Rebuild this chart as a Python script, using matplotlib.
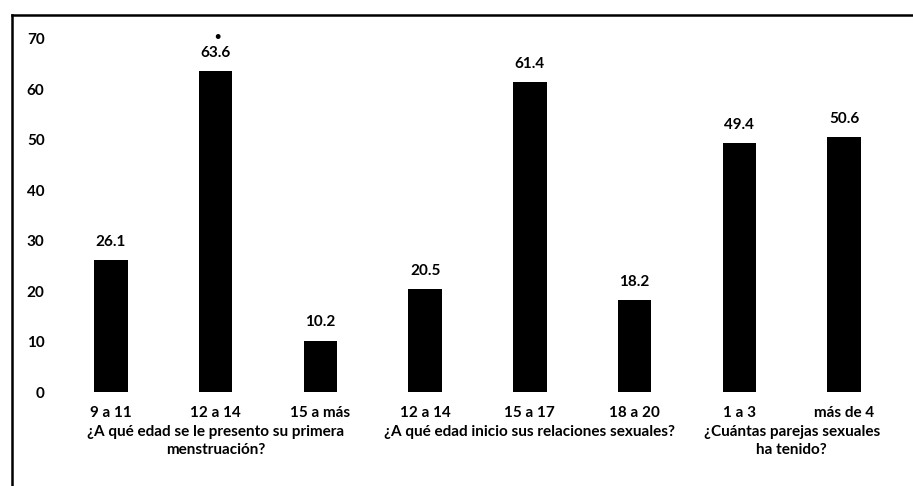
import matplotlib
matplotlib.use("Agg")
import matplotlib.pyplot as plt
from matplotlib.lines import Line2D
import matplotlib.transforms as mtrans

categories = ["9 a 11", "12 a 14", "15 a más", "12 a 14", "15 a 17", "18 a 20", "1 a 3", "más de 4"]
values = [26.1, 63.6, 10.2, 20.5, 61.4, 18.2, 49.4, 50.6]
value_labels = ["26.1", "63.6", "10.2", "20.5", "61.4", "18.2", "49.4", "50.6"]
groups = ["¿A qué edad se le presento su primera\nmenstruación?",
          "¿A qué edad inicio sus relaciones sexuales?",
          "¿Cuántas parejas sexuales\nha tenido?"]
group_members = [[0, 1, 2], [3, 4, 5], [6, 7]]
yticks = [0, 10, 20, 30, 40, 50, 60, 70]

plt.rcParams['font.family'] = ['Lato', 'DejaVu Sans']

fig = plt.figure(figsize=(9.13, 4.86), dpi=100)
ax = fig.add_axes([58.5/913, 94/486, (896.5-58.5)/913, (392-39)/486])

fs = 11
x = list(range(len(categories)))
ax.bar(x, values, width=0.32, color='black')
ax.set_xlim(-0.5, len(categories) - 0.5)
ax.set_ylim(0, 70)
ax.set_yticks(yticks)
ax.set_yticklabels([str(t) for t in yticks], fontsize=fs, fontweight='bold')
ax.set_xticks(x)
ax.set_xticklabels(categories, fontsize=fs, fontweight='bold')
ax.tick_params(axis='both', length=0)
ax.tick_params(axis='y', pad=10)
ax.tick_params(axis='x', pad=10)
for s in ax.spines.values():
    s.set_visible(False)

for xi, v, lab in zip(x, values, value_labels):
    ax.annotate(lab, (xi, v), xytext=(0, 8), textcoords='offset points',
                ha='center', va='bottom', fontsize=fs, fontweight='bold')
# small mark above the 63.6 label
ax.annotate("•", (1, values[1]), xytext=(1.5, 21), textcoords='offset points',
            ha='center', va='bottom', fontsize=8, fontweight='bold')

trans = mtrans.blended_transform_factory(ax.transData, ax.transAxes)
for g, members in zip(groups, group_members):
    cx = sum(members) / len(members)
    ax.text(cx, -0.093, g, transform=trans, ha='center', va='top',
            fontsize=fs, fontweight='bold', linespacing=1.35, multialignment='center')

# frame lines (left and top)
fig.add_artist(Line2D([11.5/913, 11.5/913], [0, 1 - 15/486], color='black', lw=1.8, transform=fig.transFigure))
fig.add_artist(Line2D([11.5/913, 1], [1 - 15/486, 1 - 15/486], color='black', lw=1.8, transform=fig.transFigure))

fig.savefig("out.png", dpi=100)
